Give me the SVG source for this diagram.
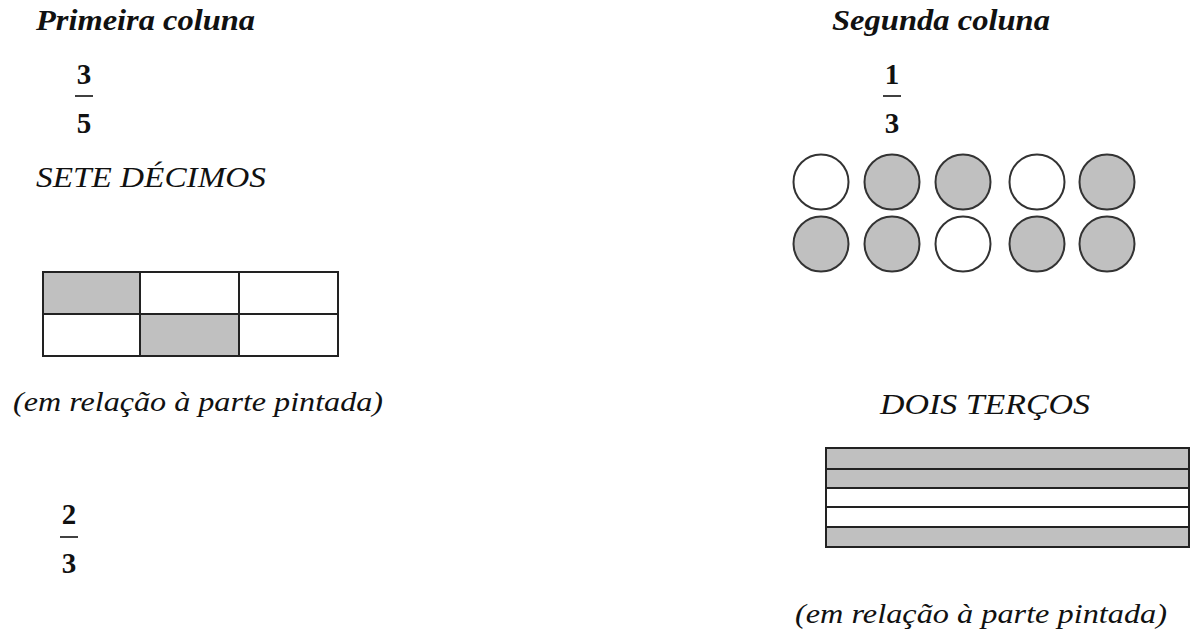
<svg xmlns="http://www.w3.org/2000/svg" width="1192" height="634" viewBox="0 0 1192 634">
<style>
.h{font-family:"Liberation Serif",serif;font-weight:bold;font-style:italic;font-size:29px;fill:#111}
.t{font-family:"Liberation Serif",serif;font-style:italic;font-size:30px;fill:#111}
.c{font-family:"Liberation Serif",serif;font-style:italic;font-size:27px;fill:#111}
.n{font-family:"Liberation Serif",serif;font-weight:bold;font-size:29px;fill:#111;text-anchor:middle}
.bar{stroke:#111;stroke-width:1.6}
.cell{stroke:#222;stroke-width:2}
.g{fill:#c0c0c0}
.w{fill:#fff}
</style>
<rect width="1192" height="634" fill="#fff"/>
<g id="col1">
<text class="h" x="36" y="30" textLength="219" lengthAdjust="spacingAndGlyphs">Primeira coluna</text>
<g id="frac-3-5"><text class="n" x="84" y="84">3</text><line class="bar" x1="75" y1="96" x2="93" y2="96"/><text class="n" x="84" y="133">5</text></g>
<text class="t" x="36" y="187" textLength="230" lengthAdjust="spacingAndGlyphs">SETE DÉCIMOS</text>
<g id="grid">
<rect class="cell g" x="43" y="272" width="97" height="42"/>
<rect class="cell w" x="140" y="272" width="99" height="42"/>
<rect class="cell w" x="239" y="272" width="99" height="42"/>
<rect class="cell w" x="43" y="314" width="97" height="42"/>
<rect class="cell g" x="140" y="314" width="99" height="42"/>
<rect class="cell w" x="239" y="314" width="99" height="42"/>
</g>
<text class="c" x="13" y="411" textLength="370" lengthAdjust="spacingAndGlyphs">(em relação à parte pintada)</text>
<g id="frac-2-3"><text class="n" x="69" y="524">2</text><line class="bar" x1="60" y1="537" x2="78" y2="537"/><text class="n" x="69" y="573">3</text></g>
</g>
<g id="col2">
<text class="h" x="832" y="30" textLength="218" lengthAdjust="spacingAndGlyphs">Segunda coluna</text>
<g id="frac-1-3"><text class="n" x="892" y="84">1</text><line class="bar" x1="883" y1="96" x2="901" y2="96"/><text class="n" x="892" y="133">3</text></g>
<g id="circles" stroke="#333" stroke-width="2">
<circle class="w" cx="821" cy="182" r="27.5"/>
<circle class="g" cx="892" cy="182" r="27.5"/>
<circle class="g" cx="963" cy="182" r="27.5"/>
<circle class="w" cx="1037" cy="182" r="27.5"/>
<circle class="g" cx="1107" cy="182" r="27.5"/>
<circle class="g" cx="821" cy="244" r="27.5"/>
<circle class="g" cx="892" cy="244" r="27.5"/>
<circle class="w" cx="963" cy="244" r="27.5"/>
<circle class="g" cx="1037" cy="244" r="27.5"/>
<circle class="g" cx="1107" cy="244" r="27.5"/>
</g>
<text class="t" x="880" y="414" textLength="210" lengthAdjust="spacingAndGlyphs">DOIS TERÇOS</text>
<g id="strips">
<rect class="cell g" x="826" y="448" width="363" height="21"/>
<rect class="cell g" x="826" y="469" width="363" height="19"/>
<rect class="cell w" x="826" y="488" width="363" height="19"/>
<rect class="cell w" x="826" y="507" width="363" height="20"/>
<rect class="cell g" x="826" y="527" width="363" height="20"/>
</g>
<text class="c" x="795" y="623" textLength="372" lengthAdjust="spacingAndGlyphs">(em relação à parte pintada)</text>
</g>
</svg>
